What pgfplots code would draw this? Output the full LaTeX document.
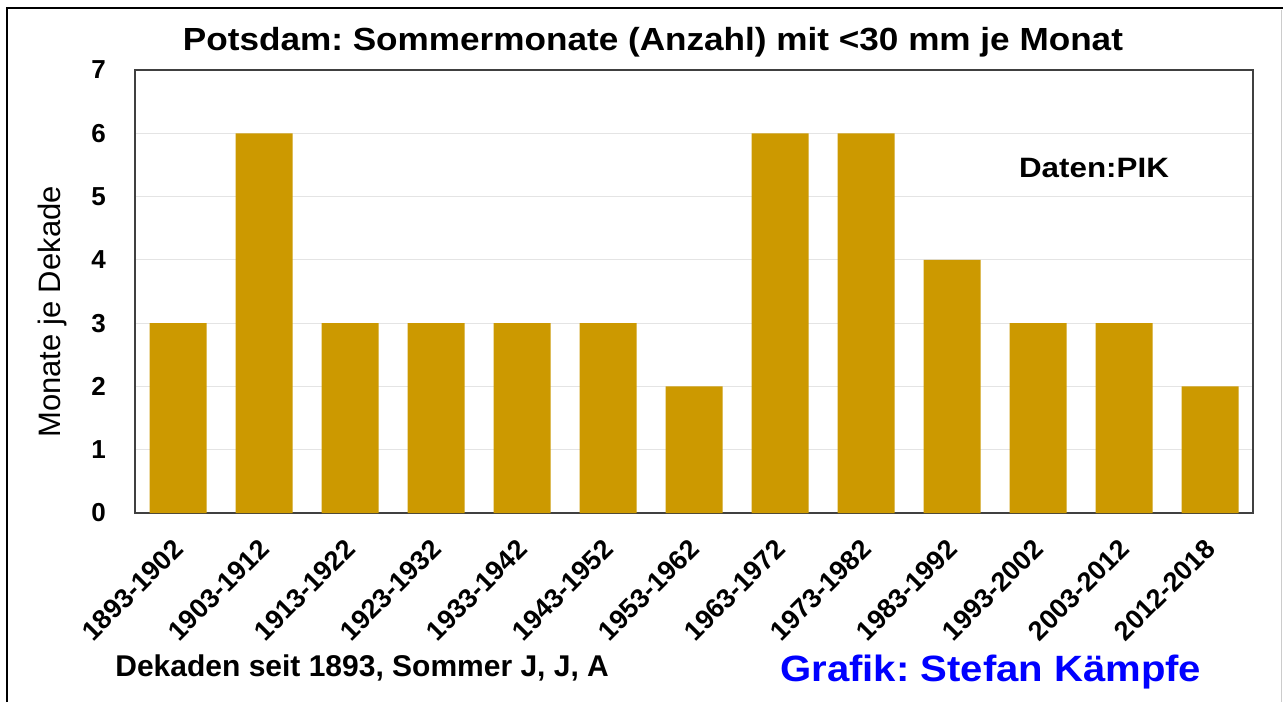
\documentclass[border=0pt]{standalone}
\usepackage{pgfplots}
\pgfplotsset{compat=1.18}
\usepackage{fontspec}
\setmainfont{Liberation Sans}
\frenchspacing
\definecolor{bargold}{HTML}{CC9900}
\definecolor{axgray}{HTML}{404040}
\definecolor{gridgray}{HTML}{E4E4E4}
\begin{document}
\begin{tikzpicture}[x=1pt,y=1pt]
\path[use as bounding box] (0,0) rectangle (641.5,351);
\fill[white] (0,0) rectangle (641.5,351);
\draw[black, line width=1.2pt] (3.5,0) -- (3.5,347) -- (641.5,347);
\draw[gray!40, line width=0.6pt] (640.6,346) -- (640.6,0);
\begin{axis}[
  at={(67.5pt,94.5pt)}, anchor=south west,
  scale only axis, width=559pt, height=221.5pt,
  xmin=-0.5, xmax=12.5, ymin=0, ymax=7,
  xtick={0,...,12},
  xticklabels={1893-1902,1903-1912,1913-1922,1923-1932,1933-1942,1943-1952,1953-1962,1963-1972,1973-1982,1983-1992,1993-2002,2003-2012,2012-2018},
  ytick={0,...,7},
  major tick length=0pt,
  ymajorgrids, grid style={gridgray, line width=0.5pt},
  axis line style={axgray, line width=1pt},
  /pgf/number format/assume math mode=true,
  yticklabel style={font=\fontsize{13}{15}\selectfont\bfseries, xshift=-11pt},
  xticklabel style={font=\fontsize{13.5}{15}\selectfont\bfseries, rotate=45, anchor=north east, xshift=-7.5pt, yshift=-2.8pt},
]
\addplot[ybar, bar width=28.5pt, fill=bargold, draw=none] coordinates {
(0,3) (1,6) (2,3) (3,3) (4,3) (5,3) (6,2) (7,6) (8,6) (9,4) (10,3) (11,3) (12,2)};
\end{axis}
\node[font=\fontsize{16}{18}\selectfont\bfseries] at (326.5,330) {\scalebox{1.098}[1]{Potsdam: Sommermonate (Anzahl) mit <30 mm je Monat}};
\node[font=\fontsize{14}{16}\selectfont\bfseries] at (547,267) {\scalebox{1.12}[1]{Daten:PIK}};
\node[font=\fontsize{15.5}{17}\selectfont, rotate=90] at (26,195) {Monate je Dekade};
\node[font=\fontsize{15}{17}\selectfont\bfseries, anchor=west, inner sep=0pt] at (57.5,17) {Dekaden seit 1893, Sommer J, J, A};
\node[font=\fontsize{18.3}{21}\selectfont\bfseries, text=blue, anchor=west, inner sep=0pt] at (390,15) {\scalebox{1.095}[1]{Grafik: Stefan Kämpfe}};
\end{tikzpicture}
\end{document}
